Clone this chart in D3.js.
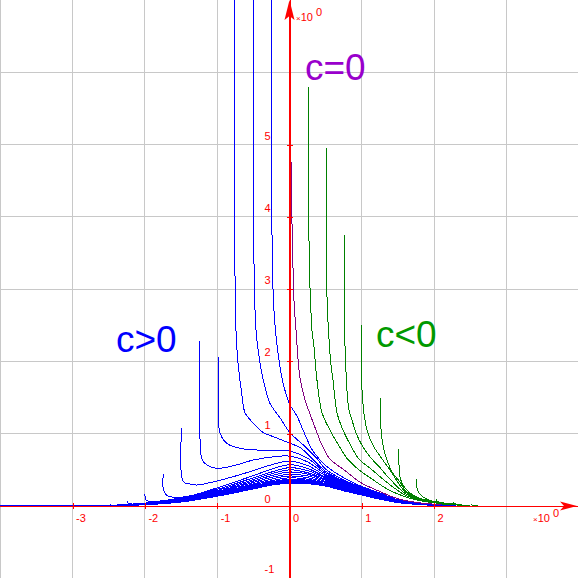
<!DOCTYPE html>
<html>
<head>
<meta charset="utf-8">
<script src="https://cdn.jsdelivr.net/npm/d3@7"></script>
<style>
    body { margin: 0; background: #fff; }
    svg { display: block; }
</style>
</head>
<body>
<div id="main"></div>
<script>
// axis ticks and labels
const xTicks = [-3, -2, -1, 0, 1, 2];
const yTicks = [-1, 0, 1, 2, 3, 4, 5];
const xGrid = [-4, -3, -2, -1, 1, 2, 3, 4];
const yGrid = [-1, 1, 2, 3, 4, 5, 6, 7];

// c = 0
const purpleCurve = [[0.007, 6.0], [0.028, 4.23], [0.044, 3.5], [0.062, 2.85], [0.09, 2.43], [0.145, 1.77],
    [0.214, 1.47], [0.284, 1.27], [0.367, 1.05], [0.45, 0.84], [0.56, 0.65], [0.781, 0.48], [0.975, 0.33],
    [1.25, 0.2], [1.5, 0.1], [1.75, 0.05], [2.1, 0.018]];

// c < 0
const greenCurves = [
    [[0.26, 5.8], [0.264, 4.02], [0.277, 3.24], [0.29, 2.85], [0.311, 2.43], [0.339, 2.2], [0.38, 1.74], [0.45, 1.29],
        [0.56, 1.05], [0.685, 0.83], [0.795, 0.66], [0.961, 0.5], [1.141, 0.373], [1.376, 0.221], [1.611, 0.124],
        [1.833, 0.069], [2.082, 0.035], [2.358, 0.014]],
    [[0.505, 4.95], [0.508, 3.36], [0.519, 2.89], [0.539, 2.43], [0.574, 1.95], [0.602, 1.74], [0.657, 1.29],
        [0.74, 1.05], [0.851, 0.83], [0.961, 0.65], [1.141, 0.5], [1.376, 0.304], [1.611, 0.145], [1.833, 0.076],
        [2.082, 0.041], [2.358, 0.016]],
    [[0.758, 3.75], [0.761, 2.48], [0.775, 2.02], [0.795, 1.6], [0.823, 1.33], [0.864, 1.19], [0.92, 1.01],
        [1.003, 0.84], [1.113, 0.68], [1.252, 0.53], [1.376, 0.387], [1.611, 0.166], [1.833, 0.083], [2.082, 0.043],
        [2.358, 0.017]],
    [[0.999, 2.5], [1.003, 1.6], [1.024, 1.33], [1.044, 1.19], [1.072, 1.05], [1.155, 0.84], [1.252, 0.69],
        [1.39, 0.498], [1.611, 0.187], [1.833, 0.09], [2.082, 0.046], [2.358, 0.019]],
    [[1.252, 1.494], [1.259, 1.19], [1.276, 0.954], [1.307, 0.775], [1.349, 0.636], [1.418, 0.47], [1.528, 0.332],
        [1.611, 0.207], [1.833, 0.097], [2.082, 0.048], [2.358, 0.021]],
    [[1.505, 0.788], [1.515, 0.567], [1.528, 0.401], [1.57, 0.29], [1.625, 0.221], [1.708, 0.152], [1.805, 0.106],
        [2.04, 0.037], [2.289, 0.014]],
    [[1.759, 0.373], [1.763, 0.249], [1.781, 0.194], [1.833, 0.138], [1.902, 0.093], [2.012, 0.058], [2.123, 0.037],
        [2.358, 0.014]],
    [[2.026, 0.093], [2.04, 0.069], [2.082, 0.046], [2.178, 0.028], [2.261, 0.018], [2.427, 0.007]],
    [[2.257, 0.059], [2.275, 0.035], [2.358, 0.017], [2.497, 0.007]],
    [[2.506, 0.028], [2.524, 0.014], [2.607, 0.006]]
];

// c > 0, the ones with a pole
const blueCurves = [
    [[-0.246, 7.2], [-0.246, 4.5], [-0.236, 3.3], [-0.215, 2.7], [-0.17, 2.2], [-0.1, 1.75], [-0.04, 1.52], [0, 1.41],
        [0.1, 1.25], [0.2, 1.02], [0.325, 0.76], [0.5, 0.56], [0.75, 0.39], [1.0, 0.27], [1.25, 0.18], [1.5, 0.085],
        [1.75, 0.045], [2.0, 0.02], [2.3, 0.005]],
    [[-0.501, 7.2], [-0.501, 4.5], [-0.49, 3.3], [-0.463, 2.43], [-0.408, 1.98], [-0.353, 1.7], [-0.27, 1.42],
        [-0.131, 1.22], [0, 1.02], [0.145, 0.885], [0.25, 0.79], [0.376, 0.66], [0.5, 0.51], [0.75, 0.36], [1.0, 0.26],
        [1.25, 0.17], [1.5, 0.08], [1.75, 0.042], [2.0, 0.018], [2.3, 0.005]],
    [[-0.754, 7.2], [-0.754, 3.22], [-0.74, 2.43], [-0.712, 1.98], [-0.661, 1.56], [-0.615, 1.29], [-0.505, 1.15],
        [-0.367, 1.02], [-0.173, 0.94], [0, 0.87], [0.145, 0.81], [0.25, 0.72], [0.5, 0.48], [0.75, 0.345], [1.0, 0.25],
        [1.25, 0.165], [1.5, 0.078], [1.75, 0.04], [2.0, 0.017], [2.3, 0.004]],
    [[-0.985, 2.065], [-0.982, 1.19], [-0.961, 1.01], [-0.869, 0.867], [-0.685, 0.798], [-0.454, 0.775],
        [-0.177, 0.765], [0, 0.76], [0.25, 0.66], [0.5, 0.46], [0.75, 0.335], [1.0, 0.243], [1.25, 0.16], [1.5, 0.076],
        [1.75, 0.039], [2.0, 0.016], [2.3, 0.004]],
    [[-1.248, 2.28], [-1.24, 1.05], [-1.214, 0.66], [-1.145, 0.567], [-1.007, 0.52], [-0.777, 0.557], [-0.5, 0.636],
        [-0.224, 0.68], [0, 0.69], [0.25, 0.61], [0.5, 0.44], [0.75, 0.325], [1.0, 0.236], [1.25, 0.155], [1.5, 0.074],
        [1.75, 0.038], [2.0, 0.015], [2.3, 0.004]],
    [[-1.491, 1.08], [-1.469, 0.336], [-1.376, 0.304], [-1.284, 0.29], [-1.003, 0.346], [-0.73, 0.42], [-0.5, 0.49],
        [-0.25, 0.57], [0, 0.62], [0.25, 0.56], [0.5, 0.42], [0.75, 0.315], [1.0, 0.229], [1.25, 0.15], [1.5, 0.072],
        [1.75, 0.037], [2.0, 0.015], [2.3, 0.003]],
    [[-1.746, 0.443], [-1.743, 0.221], [-1.7, 0.152], [-1.584, 0.118], [-1.376, 0.14], [-1.003, 0.25], [-0.5, 0.42],
        [-0.25, 0.51], [0, 0.57], [0.25, 0.52], [0.5, 0.4], [0.75, 0.305], [1.0, 0.222], [1.25, 0.145], [1.5, 0.07],
        [1.75, 0.035], [2.0, 0.014], [2.3, 0.003]],
    [[-1.999, 0.166], [-1.985, 0.083], [-1.929, 0.062], [-1.72, 0.078], [-1.5, 0.115], [-1.003, 0.23], [-0.5, 0.39],
        [-0.25, 0.47], [0, 0.53], [0.25, 0.49], [0.5, 0.385], [0.75, 0.295], [1.0, 0.215], [1.25, 0.14], [1.5, 0.068],
        [1.75, 0.034], [2.0, 0.013], [2.3, 0.003]],
    [[-2.238, 0.069], [-2.227, 0.035], [-2.137, 0.028], [-2.0, 0.04], [-1.5, 0.105], [-1.003, 0.215], [-0.5, 0.365],
        [-0.25, 0.445], [0, 0.5], [0.25, 0.46], [0.5, 0.37], [0.75, 0.285], [1.0, 0.208], [1.25, 0.135], [1.5, 0.066],
        [1.75, 0.033], [2.0, 0.013], [2.3, 0.003]],
    [[-2.483, 0.028], [-2.469, 0.01], [-2.344, 0.017], [-2.0, 0.034], [-1.5, 0.097], [-1.0, 0.2], [-0.5, 0.345],
        [-0.25, 0.42], [0, 0.47], [0.25, 0.44], [0.5, 0.355], [0.75, 0.275], [1.0, 0.201], [1.25, 0.13], [1.5, 0.064],
        [1.75, 0.032], [2.0, 0.012], [2.3, 0.003]]
];

// c > 0, no pole in view: the dense bundle
const bundleX = [-4, -3, -2.5, -2, -1.5, -1, -0.5, -0.25, 0, 0.25, 0.5, 0.75, 1, 1.25, 1.5, 1.75, 2, 2.3];
const bundleY = [
    [0.001, 0.004, 0.01, 0.03, 0.09, 0.19, 0.325, 0.395, 0.44, 0.415, 0.34, 0.265, 0.194, 0.126, 0.062, 0.031, 0.012, 0.003],
    [0.001, 0.004, 0.009, 0.027, 0.083, 0.18, 0.305, 0.372, 0.415, 0.39, 0.325, 0.255, 0.187, 0.122, 0.06, 0.03, 0.011, 0.002],
    [0.001, 0.003, 0.008, 0.024, 0.076, 0.17, 0.29, 0.35, 0.39, 0.37, 0.31, 0.245, 0.18, 0.118, 0.058, 0.029, 0.011, 0.002],
    [0.001, 0.003, 0.007, 0.022, 0.071, 0.162, 0.275, 0.335, 0.37, 0.355, 0.3, 0.237, 0.174, 0.114, 0.056, 0.028, 0.01, 0.002],
    [0.001, 0.003, 0.007, 0.021, 0.067, 0.155, 0.265, 0.322, 0.355, 0.345, 0.295, 0.23, 0.169, 0.11, 0.054, 0.027, 0.01, 0.002],
    [0.001, 0.003, 0.006, 0.02, 0.064, 0.15, 0.258, 0.314, 0.345, 0.335, 0.29, 0.225, 0.165, 0.106, 0.052, 0.026, 0.01, 0.002],
    [0.001, 0.002, 0.006, 0.019, 0.061, 0.145, 0.25, 0.305, 0.335, 0.327, 0.285, 0.22, 0.16, 0.102, 0.05, 0.025, 0.009, 0.002],
    [0.001, 0.002, 0.005, 0.018, 0.058, 0.14, 0.243, 0.297, 0.325, 0.319, 0.28, 0.215, 0.156, 0.098, 0.048, 0.024, 0.009, 0.002],
    [0.001, 0.002, 0.005, 0.017, 0.055, 0.135, 0.236, 0.289, 0.315, 0.31, 0.275, 0.21, 0.152, 0.094, 0.046, 0.023, 0.009, 0.002]
];

const width = 578;
const height = 578;
const unit = 72.3;
const origin = [289.5, 506];
const font = "'Liberation Sans', Arial, sans-serif";

const x = d3.scaleLinear()
    .domain([-4, 4])
    .range([origin[0] - 4 * unit, origin[0] + 4 * unit]);

const y = d3.scaleLinear()
    .domain([-1, 7])
    .range([origin[1] + unit, origin[1] - 7 * unit]);

const svg = d3.create("svg")
    .attr("width", width)
    .attr("height", height)
    .attr("viewBox", [0, 0, width, height])
    .style("font-family", font);

svg.append("rect")
    .attr("width", width)
    .attr("height", height)
    .attr("fill", "#fff");

// grid
const grid = svg.append("g")
    .attr("stroke", "#c8c8c8")
    .attr("shape-rendering", "crispEdges");
grid.selectAll(".vx")
    .data(xGrid)
    .join("line")
    .attr("x1", d => x(d)).attr("x2", d => x(d))
    .attr("y1", 0).attr("y2", height);
grid.selectAll(".hy")
    .data(yGrid)
    .join("line")
    .attr("x1", 0).attr("x2", width)
    .attr("y1", d => y(d)).attr("y2", d => y(d));

const line = d3.line()
    .x(d => x(d[0]))
    .y(d => y(d[1]))
    .curve(d3.curveCatmullRom.alpha(0.5));

const bundle = bundleY.map(ys => ys.map((v, i) => [bundleX[i], v]));

// aliased strokes, like the original plotter
svg.append("g")
    .attr("fill", "none")
    .attr("stroke", "#0000ff")
    .attr("stroke-width", 1)
    .attr("shape-rendering", "crispEdges")
    .selectAll("path")
    .data(bundle.concat(blueCurves))
    .join("path")
    .attr("d", line);

svg.append("g")
    .attr("fill", "none")
    .attr("stroke", "#008000")
    .attr("stroke-width", 1)
    .attr("shape-rendering", "crispEdges")
    .selectAll("path")
    .data(greenCurves)
    .join("path")
    .attr("d", line);

svg.append("path")
    .datum(purpleCurve)
    .attr("fill", "none")
    .attr("stroke", "#800080")
    .attr("stroke-width", 1)
    .attr("shape-rendering", "crispEdges")
    .attr("d", line);

// axes
const xAxis = g => g
    .attr("transform", `translate(0,${y(0)})`)
    .call(d3.axisBottom(x).tickValues(xTicks).tickSize(3).tickSizeOuter(0))
    .attr("font-size", 11)
    .attr("font-family", font)
    .call(g => g.select(".domain").attr("stroke", "#ff0000").attr("shape-rendering", "crispEdges"))
    .call(g => g.selectAll(".tick line").attr("stroke", "#ff0000").attr("y1", -3).attr("y2", 3)
        .attr("shape-rendering", "crispEdges"))
    .call(g => g.selectAll(".tick text")
        .attr("fill", "#ff0000")
        .attr("text-anchor", "start")
        .attr("x", 3)
        .attr("y", 16)
        .attr("dy", 0)
        .text(d => d < 0 ? "-" + Math.abs(d) : d));

const yAxis = g => g
    .attr("transform", `translate(${x(0)},0)`)
    .call(d3.axisLeft(y).tickValues(yTicks).tickSize(3).tickSizeOuter(0))
    .attr("font-size", 11)
    .attr("font-family", font)
    .call(g => g.select(".domain").attr("stroke", "#ff0000").attr("shape-rendering", "crispEdges"))
    .call(g => g.selectAll(".tick line").attr("stroke", "#ff0000").attr("x1", 3).attr("x2", -3)
        .attr("shape-rendering", "crispEdges"))
    .call(g => g.selectAll(".tick text")
        .attr("fill", "#ff0000")
        .attr("text-anchor", "start")
        .attr("x", -25)
        .attr("y", d => d === 0 ? -4 : -5.5)
        .attr("dy", 0)
        .text(d => d < 0 ? "-" + Math.abs(d) : d));

svg.append("g").call(xAxis);
svg.append("g").call(yAxis);

// the axis lines run the whole view
svg.append("line")
    .attr("x1", 0).attr("x2", 570)
    .attr("y1", y(0)).attr("y2", y(0))
    .attr("stroke", "#ff0000")
    .attr("shape-rendering", "crispEdges");
svg.append("line")
    .attr("x1", x(0)).attr("x2", x(0))
    .attr("y1", 4).attr("y2", height)
    .attr("stroke", "#ff0000")
    .attr("shape-rendering", "crispEdges");

// arrow heads
svg.append("path")
    .attr("d", `M577,${y(0)} L560,${y(0) - 4.5} L564,${y(0)} L560,${y(0) + 4.5} Z`)
    .attr("fill", "#ff0000");
svg.append("path")
    .attr("d", `M${x(0)},0 L${x(0) + 5},20 L${x(0)},16 L${x(0) - 5},20 Z`)
    .attr("fill", "#ff0000");

// scale factors
const factor = (px, py) => {
    const t = svg.append("text")
        .attr("x", px)
        .attr("y", py)
        .attr("fill", "#ff0000")
        .attr("font-size", 11);
    t.append("tspan").attr("font-size", 8).text("×");
    t.append("tspan").text("10");
    svg.append("text")
        .attr("x", px + 20)
        .attr("y", py - 5)
        .attr("fill", "#ff0000")
        .attr("font-size", 11)
        .text("0");
};
factor(533, 522);
factor(296, 21);

// labels
const labels = [
    {text: "c=0", x: 305, y: 80, color: "#9900cc"},
    {text: "c>0", x: 116, y: 352, color: "#0000ff"},
    {text: "c<0", x: 376, y: 347, color: "#009900"}
];
svg.append("g")
    .selectAll("text")
    .data(labels)
    .join("text")
    .attr("x", d => d.x)
    .attr("y", d => d.y)
    .attr("fill", d => d.color)
    .attr("font-size", 37)
    .text(d => d.text);

d3.select("#main").append(() => svg.node());
</script>
</body>
</html>
